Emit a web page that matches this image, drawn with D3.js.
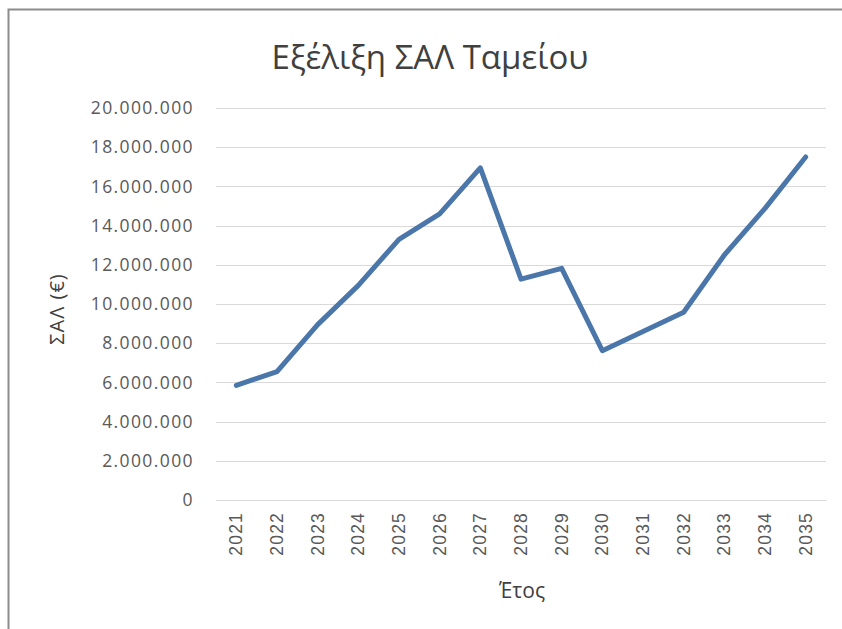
<!DOCTYPE html>
<html>
<head>
<meta charset="utf-8">
<script src="https://cdn.jsdelivr.net/npm/d3@7"></script>
<style>
  body { margin: 0; background: #fff; }
  svg { display: block; font-family: "Open Sans", "DejaVu Sans", sans-serif; }
</style>
</head>
<body>
<svg id="chart"></svg>
<script>
// Chart data
const years = ["2021", "2022", "2023", "2024", "2025", "2026", "2027", "2028",
               "2029", "2030", "2031", "2032", "2033", "2034", "2035"];
const salValues = [5850000, 6550000, 8950000, 10950000, 13300000, 14600000, 16950000, 11270000,
                   11820000, 7620000, 8600000, 9580000, 12500000, 14880000, 17500000];
const yTicks = [0, 2000000, 4000000, 6000000, 8000000, 10000000, 12000000,
                14000000, 16000000, 18000000, 20000000];

const width = 842;
const height = 629;
const margin = { top: 108, right: 16, bottom: 129, left: 216 };

const svg = d3.select("#chart")
    .attr("width", width)
    .attr("height", height);

// Chart frame
svg.append("path")
    .attr("d", `M8.5,${height} V9.5 H${width}`)
    .attr("fill", "none")
    .attr("stroke", "#8c8c8c")
    .attr("stroke-width", 2);

const xScale = d3.scaleBand()
    .domain(years)
    .range([margin.left, width - margin.right]);

const yScale = d3.scaleLinear()
    .domain([0, 20000000])
    .range([height - margin.bottom, margin.top]);

const fmt = v => d3.format(",")(v).replace(/,/g, ".");

// Gridlines
svg.append("g")
    .selectAll("line")
    .data(yTicks)
    .join("line")
    .attr("x1", margin.left)
    .attr("x2", width - margin.right)
    .attr("y1", d => Math.round(yScale(d)) + 0.5)
    .attr("y2", d => Math.round(yScale(d)) + 0.5)
    .attr("stroke", "#d9d9d9")
    .attr("stroke-width", 1);

// Y axis
const yAxis = svg.append("g")
    .attr("transform", `translate(${margin.left}, 0)`)
    .call(d3.axisLeft(yScale).tickValues(yTicks).tickFormat(fmt).tickSize(0).tickPadding(22));
yAxis.select(".domain").remove();
yAxis.selectAll("text")
    .attr("font-size", 17.5)
    .attr("letter-spacing", 1.4)
    .attr("fill", "#595959")
    .attr("font-family", "Open Sans, sans-serif");

// X axis
const xAxis = svg.append("g")
    .attr("transform", `translate(0, ${height - margin.bottom})`)
    .call(d3.axisBottom(xScale).tickSize(0));
xAxis.select(".domain")
    .attr("stroke", "#d9d9d9");
xAxis.selectAll("text")
    .attr("font-size", 17.5)
    .attr("letter-spacing", 1.2)
    .attr("fill", "#595959")
    .attr("transform", "rotate(-90)")
    .attr("text-anchor", "end")
    .attr("x", -12)
    .attr("y", 0)
    .attr("dy", "0.35em");

// Line
const line = d3.line()
    .x((d, i) => xScale(years[i]) + xScale.bandwidth() / 2)
    .y(d => yScale(d));

svg.append("path")
    .datum(salValues)
    .attr("d", line)
    .attr("fill", "none")
    .attr("stroke", "#4a76aa")
    .attr("stroke-width", 5)
    .attr("stroke-linejoin", "round")
    .attr("stroke-linecap", "round");

// Title
svg.append("text")
    .attr("x", 430)
    .attr("y", 69)
    .attr("text-anchor", "middle")
    .attr("font-size", 33)
    .attr("fill", "#404040")
    .text("Εξέλιξη ΣΑΛ Ταμείου");

// Axis titles
svg.append("text")
    .attr("transform", "translate(64, 309) rotate(-90)")
    .attr("text-anchor", "middle")
    .attr("font-size", 20)
    .attr("letter-spacing", 1)
    .attr("fill", "#404040")
    .text("ΣΑΛ (€)");

svg.append("text")
    .attr("x", 522)
    .attr("y", 598)
    .attr("text-anchor", "middle")
    .attr("font-size", 21)
    .attr("fill", "#404040")
    .text("Έτος");
</script>
</body>
</html>
